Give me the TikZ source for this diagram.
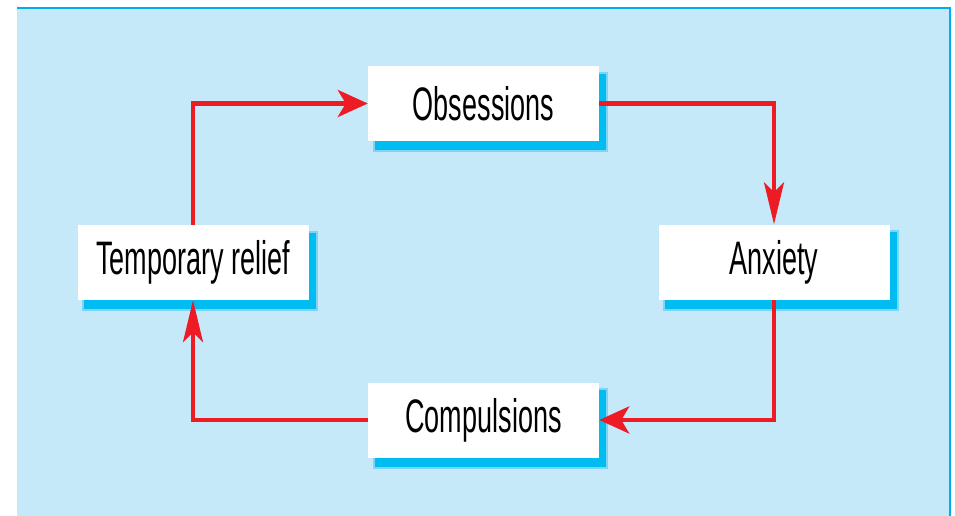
\documentclass[tikz,border=0pt]{standalone}
\usepackage{fontspec}
\setmainfont[FakeStretch=0.575]{Liberation Sans}
\usetikzlibrary{arrows.meta,calc}
\definecolor{bgblue}{HTML}{C5E9F9}
\definecolor{edgeblue}{HTML}{00AEEF}
\definecolor{shadowin}{HTML}{00BCF1}
\definecolor{shadowout}{HTML}{7DD4F5}
\definecolor{arrowred}{HTML}{ED1C24}
\begin{document}
\begin{tikzpicture}[x=1pt,y=-1pt,
  stepbox/.style={fill=white, minimum width=231pt, minimum height=75pt, inner sep=0pt,
    font=\fontsize{47}{52}\selectfont},
  link/.style={draw=arrowred, line width=4.5pt},
  harrow/.style={-{Stealth[length=30pt,width=27pt,inset=8pt]}},
  varrow/.style={-{Stealth[length=42pt,width=20pt,inset=10pt]}},
  shadowbox/.style={fill=shadowin, draw=shadowout, line width=2pt}]
\useasboundingbox (0,0) rectangle (955,516);
\fill[bgblue] (17,8) rectangle (950,516);
\draw[edgeblue, line width=2pt] (17,8.5) -- (949.5,8.5) -- (949.5,516);
\node[stepbox] (o) at (483.5,103.5) {Obsessions};
\node[stepbox] (a) at (774,262) {Anxiety};
\node[stepbox] (t) at (193,262.5) {Temporary relief};
\node[stepbox] (c) at (483.5,420) {Compulsions};
\foreach \n in {o,a,t,c} {
  \path[shadowbox] ($(\n.north west)+(6,7)$) rectangle ($(\n.south east)+(8,10)$);
}
\node[stepbox] at (o) {Obsessions};
\node[stepbox] at (a) {Anxiety};
\node[stepbox] at (t) {Temporary relief};
\node[stepbox] at (c) {Compulsions};
\draw[link, harrow] (t.north) |- (o.west);
\draw[link, varrow] (o.east) -| (a.north);
\draw[link, harrow] (a.south) |- (c.east);
\draw[link, varrow] (c.west) -| (t.south);
\end{tikzpicture}
\end{document}
